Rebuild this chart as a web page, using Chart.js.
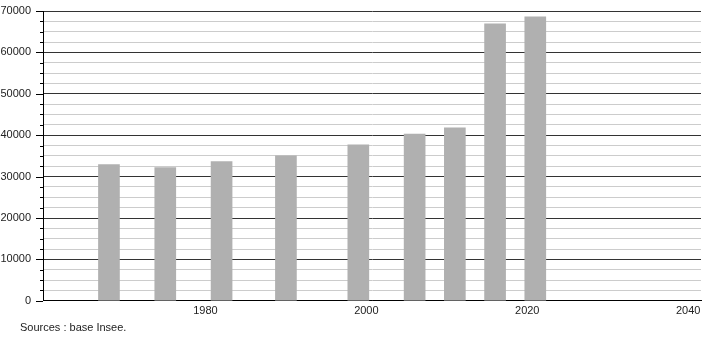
<!DOCTYPE html>
<html>
<head>
<meta charset="utf-8">
<script src="https://cdn.jsdelivr.net/npm/chart.js@4/dist/chart.umd.min.js"></script>
<style>
  html, body { margin: 0; padding: 0; background: #fff; }
  #wrap { width: 710px; height: 340px; position: relative; }
</style>
</head>
<body>
<div id="wrap"><canvas id="chart" width="710" height="340"></canvas></div>
<script>
// census years and population
const years = [1968, 1975, 1982, 1990, 1999, 2006, 2011, 2016, 2021];
const population = [32900, 32200, 33600, 35000, 37700, 40300, 41800, 66900, 68600];
const xTicks = [1980, 2000, 2020, 2040];
const sourceText = 'Sources : base Insee.';

const FONT = '"Liberation Sans", Arial, sans-serif';

// y tick marks: long for major (every 10000), short for minor
const tickMarks = {
  id: 'tickMarks',
  afterDraw(chart) {
    const ctx = chart.ctx;
    const y = chart.scales.y;
    const left = chart.chartArea.left;
    ctx.save();
    ctx.strokeStyle = '#000';
    ctx.lineWidth = 1;
    y.ticks.forEach(t => {
      const py = Math.round(y.getPixelForValue(t.value)) + 0.5;
      const len = t.value % 10000 === 0 ? 7 : 3;
      ctx.beginPath();
      ctx.moveTo(left - len, py);
      ctx.lineTo(left, py);
      ctx.stroke();
    });
    ctx.fillStyle = '#222';
    ctx.font = '11px ' + FONT;
    ctx.textBaseline = 'middle';
    ctx.fillText(sourceText, 20, 328);
    ctx.restore();
  }
};

new Chart(document.getElementById('chart'), {
  type: 'bar',
  data: {
    datasets: [{
      data: years.map((yr, i) => ({ x: yr, y: population[i] })),
      backgroundColor: '#b0b0b0',
      barThickness: 21
    }]
  },
  options: {
    responsive: false,
    animation: false,
    layout: { padding: { top: 11, right: 9, left: 0, bottom: 18 } },
    plugins: {
      legend: { display: false },
      tooltip: { enabled: false }
    },
    scales: {
      x: {
        type: 'linear',
        offset: false,
        min: 1959.8,
        max: 2041.6,
        afterBuildTicks: s => { s.ticks = xTicks.map(v => ({ value: v })); },
        afterFit: s => { s.paddingLeft = 0; s.paddingRight = 0; },
        grid: { display: false, drawTicks: false, offset: false },
        border: { display: true, color: '#000', width: 1 },
        ticks: {
          color: '#222',
          font: { family: FONT, size: 11 },
          padding: 4,
          maxRotation: 0,
          callback: v => String(v)
        }
      },
      y: {
        min: 0,
        max: 70000,
        afterFit: s => { s.width = 43; s.paddingTop = 0; s.paddingBottom = 0; },
        grid: {
          drawTicks: false,
          color: c => (c.tick && c.tick.value % 10000 === 0) ? '#333' : '#cccccc',
          lineWidth: 1
        },
        border: { display: true, color: '#000', width: 1 },
        ticks: {
          stepSize: 2500,
          autoSkip: false,
          padding: 12,
          color: '#222',
          font: { family: FONT, size: 11 },
          callback: v => v % 10000 === 0 ? String(v) : ''
        }
      }
    }
  },
  plugins: [tickMarks]
});
</script>
</body>
</html>
